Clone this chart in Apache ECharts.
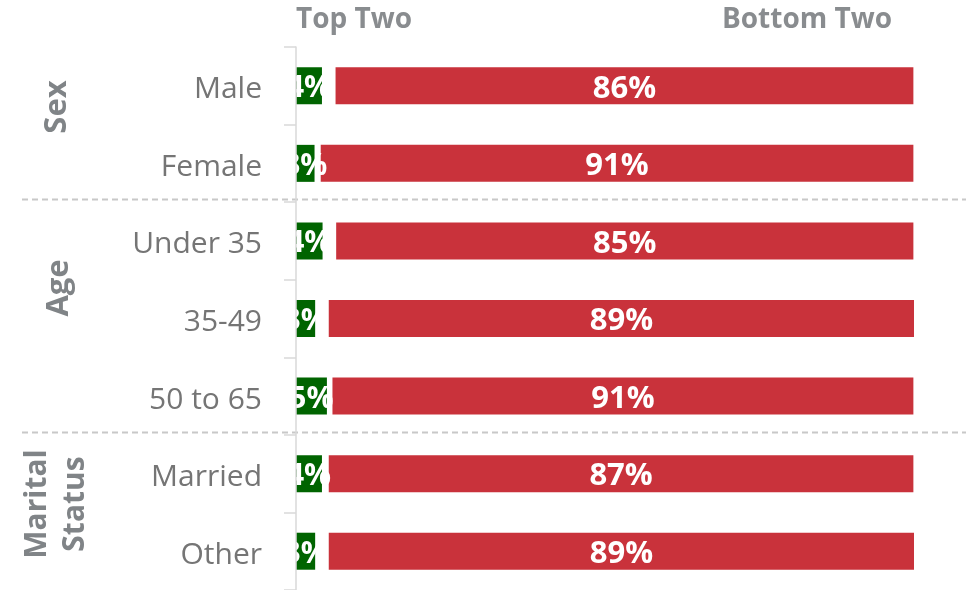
<!DOCTYPE html>
<html>
<head>
<meta charset="utf-8">
<script src="https://cdn.jsdelivr.net/npm/echarts@6/dist/echarts.min.js"></script>
<style>
  html, body { margin: 0; padding: 0; background: #fff; }
  #chart { width: 966px; height: 590px; }
</style>
</head>
<body>
<div id="chart"></div>
<script>
// categories, top to bottom
const categories = ['Male', 'Female', 'Under 35', '35-49', '50 to 65', 'Married', 'Other'];
// Top Two share (green)
const topTwo = [4.2, 3.0, 4.3, 3.1, 5.0, 4.2, 3.1];
// white space between the two bars
const gap = [2.2, 1.0, 2.2, 2.2, 0.9, 1.1, 2.2];
// red bar length as drawn
const bottomBar = [93.5, 95.9, 93.4, 94.7, 94.0, 94.6, 94.7];
// Bottom Two labels
const bottomTwo = [86, 91, 85, 89, 91, 87, 89];

const FONT = '"Open Sans", "Noto Sans", sans-serif';
const chart = echarts.init(document.getElementById('chart'));

const option = {
  animation: false,
  grid: { left: 296, right: 52, top: 47, bottom: 0 },
  xAxis: {
    type: 'value', min: 0, max: 100,
    show: false
  },
  yAxis: {
    type: 'category',
    data: categories,
    inverse: true,
    z: 10,
    axisLine: { show: true, lineStyle: { color: '#d9d9d9', width: 1.5 } },
    axisTick: { show: true, length: 12, lineStyle: { color: '#d9d9d9', width: 1.5 } },
    axisLabel: {
      color: '#757575', fontSize: 30, fontFamily: FONT, margin: 34,
      formatter: (v) => '{c|' + v + '}',
      rich: { c: { color: '#757575', fontSize: 30, fontFamily: FONT, padding: [8, 0, 0, 0] } }
    }
  },
  series: [
    {
      name: 'Top Two', type: 'bar', stack: 'all', barWidth: 37,
      data: topTwo,
      itemStyle: { color: '#006400' },
      label: {
        show: true, position: 'inside', color: '#fff', offset: [0, 3],
        fontSize: 30, fontWeight: 'bold', fontFamily: FONT,
        formatter: (p) => Math.round(p.value) + '%'
      }
    },
    {
      name: 'gap', type: 'bar', stack: 'all', silent: true,
      data: gap,
      itemStyle: { color: 'rgba(0,0,0,0)' }
    },
    {
      name: 'Bottom Two', type: 'bar', stack: 'all',
      data: bottomBar,
      itemStyle: { color: '#c9323b' },
      label: {
        show: true, position: 'inside', color: '#fff', offset: [0, 3],
        fontSize: 31, fontWeight: 'bold', fontFamily: FONT,
        formatter: (p) => bottomTwo[p.dataIndex] + '%'
      }
    }
  ],
  graphic: [
    // hides the part of the green labels left of the axis
    { type: 'rect', z: 5, shape: { x: 266, y: 47, width: 29.5, height: 543 }, style: { fill: '#fff' } },
    { type: 'line', z: 6, shape: { x1: 22, y1: 199.5, x2: 966, y2: 199.5 },
      style: { stroke: '#c8c8c8', lineWidth: 2, lineDash: [6, 4] } },
    { type: 'line', z: 6, shape: { x1: 22, y1: 432.5, x2: 966, y2: 432.5 },
      style: { stroke: '#c8c8c8', lineWidth: 2, lineDash: [6, 4] } },
    { type: 'text', left: 296, top: 6,
      style: { text: 'Top Two', fill: '#898c8f', font: 'bold 28px ' + FONT } },
    { type: 'text', right: 74, top: 6,
      style: { text: 'Bottom Two', fill: '#898c8f', font: 'bold 28px ' + FONT } },
    { type: 'text', x: 57, y: 107, rotation: Math.PI / 2,
      style: { text: 'Sex', fill: '#808487', font: 'bold 31px ' + FONT, align: 'center', verticalAlign: 'middle' } },
    { type: 'text', x: 59, y: 288, rotation: Math.PI / 2,
      style: { text: 'Age', fill: '#808487', font: 'bold 31px ' + FONT, align: 'center', verticalAlign: 'middle' } },
    { type: 'text', x: 56, y: 504, rotation: Math.PI / 2,
      style: { text: 'Marital\nStatus', fill: '#808487', font: 'bold 30px ' + FONT, lineHeight: 38, align: 'center', verticalAlign: 'middle' } }
  ]
};

chart.setOption(option);
</script>
</body>
</html>
